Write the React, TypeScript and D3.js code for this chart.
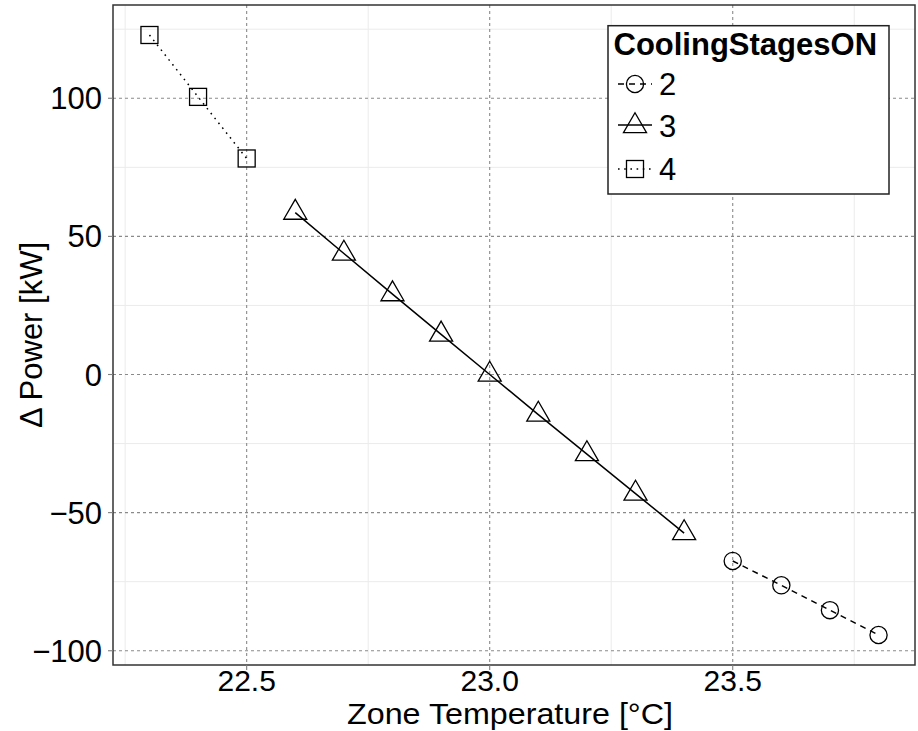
import React from "react";
import * as d3 from "d3";

// Zone temperature (°C) and change in power (kW) per number of cooling stages running
const temps2 = [23.5, 23.6, 23.7, 23.8];
const power2 = [-67.5, -76.3, -85.3, -94.3];
const temps3 = [22.6, 22.7, 22.8, 22.9, 23.0, 23.1, 23.2, 23.3, 23.4];
const power3 = [58.6, 43.8, 29.1, 14.5, 0, -14.5, -28.8, -43.1, -57.4];
const temps4 = [22.3, 22.4, 22.5];
const power4 = [122.9, 100.5, 78.2];

const xTicks = [22.5, 23.0, 23.5];
const xMinor = [22.25, 22.75, 23.25, 23.75];
const yTicks = [-100, -50, 0, 50, 100];
const yMinor = [-75, -25, 25, 75, 125];
const stageLabels = ["2", "3", "4"];

const W = 918;
const H = 731;
const panel = { left: 113, right: 915, top: 5, bottom: 665 };
const FONT = "'Liberation Sans', Arial, Helvetica, sans-serif";
const FS = 31;
const TICK_FS = 30;
const XTITLE_FS = 30;

type Shape = "circle" | "triangle" | "square";
const seriesDefs: { stage: string; xs: number[]; ys: number[]; shape: Shape; dash: string | undefined }[] = [
  { stage: stageLabels[0], xs: temps2, ys: power2, shape: "circle", dash: "6,5" },
  { stage: stageLabels[1], xs: temps3, ys: power3, shape: "triangle", dash: undefined },
  { stage: stageLabels[2], xs: temps4, ys: power4, shape: "square", dash: "1.6,4.6" },
];

function expand(ext: [number, number], f = 0.05): [number, number] {
  const r = ext[1] - ext[0];
  return [ext[0] - r * f, ext[1] + r * f];
}

function Marker({ shape, cx, cy }: { shape: Shape; cx: number; cy: number }) {
  const common = { fill: "none", stroke: "#000", strokeWidth: 1.3 };
  if (shape === "circle") return <circle cx={cx} cy={cy} r={8.6} {...common} />;
  if (shape === "square") return <rect x={cx - 8.5} y={cy - 8.5} width={17} height={17} {...common} />;
  const R = 13.3;
  const pts = [
    [cx, cy - R],
    [cx + (Math.sqrt(3) / 2) * R, cy + R / 2],
    [cx - (Math.sqrt(3) / 2) * R, cy + R / 2],
  ];
  return <polygon points={pts.map((p) => p.join(",")).join(" ")} {...common} />;
}

export default function App() {
  const allX = [...temps2, ...temps3, ...temps4];
  const allY = [...power2, ...power3, ...power4];
  const x = d3
    .scaleLinear()
    .domain(expand(d3.extent(allX) as [number, number]))
    .range([panel.left, panel.right]);
  const y = d3
    .scaleLinear()
    .domain(expand(d3.extent(allY) as [number, number]))
    .range([panel.bottom, panel.top]);

  const line = d3
    .line<[number, number]>()
    .x((d) => x(d[0]))
    .y((d) => y(d[1]));

  const fmtY = (v: number) => (v < 0 ? "\u2212" + Math.abs(v) : String(v));
  const fmtX = d3.format(".1f");

  const legend = { x: 608, y: 25.7, w: 281, h: 168.3 };
  const legendRows = [84, 126, 169];

  return (
    <svg
      width={W}
      height={H}
      style={{ position: "absolute", left: 0, top: 0, background: "#fff" }}
      fontFamily={FONT}
    >
      <rect x={0} y={0} width={W} height={H} fill="#fff" />
      {/* minor grid */}
      {xMinor.map((v) => (
        <line key={"xm" + v} x1={x(v)} x2={x(v)} y1={panel.top} y2={panel.bottom} stroke="#ebebeb" strokeWidth={1} />
      ))}
      {yMinor.map((v) => (
        <line key={"ym" + v} x1={panel.left} x2={panel.right} y1={y(v)} y2={y(v)} stroke="#ebebeb" strokeWidth={1} />
      ))}
      {/* major grid */}
      {xTicks.map((v) => (
        <line
          key={"xg" + v}
          x1={x(v)}
          x2={x(v)}
          y1={panel.top}
          y2={panel.bottom}
          stroke="#8a8a8a"
          strokeWidth={1.1}
          strokeDasharray="3,3"
        />
      ))}
      {yTicks.map((v) => (
        <line
          key={"yg" + v}
          x1={panel.left}
          x2={panel.right}
          y1={y(v)}
          y2={y(v)}
          stroke="#8a8a8a"
          strokeWidth={1.1}
          strokeDasharray="3,3"
        />
      ))}

      {/* series lines */}
      {seriesDefs.map((s) => (
        <path
          key={"l" + s.stage}
          d={line(s.xs.map((v, i) => [v, s.ys[i]]) as [number, number][]) || ""}
          fill="none"
          stroke="#000"
          strokeWidth={1.5}
          strokeDasharray={s.dash}
        />
      ))}
      {/* markers */}
      {seriesDefs.map((s) =>
        s.xs.map((v, i) => <Marker key={"m" + s.stage + i} shape={s.shape} cx={x(v)} cy={y(s.ys[i])} />)
      )}

      {/* panel border */}
      <rect
        x={panel.left}
        y={panel.top}
        width={panel.right - panel.left}
        height={panel.bottom - panel.top}
        fill="none"
        stroke="#333"
        strokeWidth={1.5}
      />

      {/* axis ticks and labels */}
      {yTicks.map((v) => (
        <g key={"yt" + v}>
          <line x1={panel.left - 5} x2={panel.left} y1={y(v)} y2={y(v)} stroke="#7f7f7f" strokeWidth={1.1} />
          <text x={102} y={y(v) + 11} textAnchor="end" fontSize={FS} fill="#000">
            {fmtY(v)}
          </text>
        </g>
      ))}
      {xTicks.map((v) => (
        <g key={"xt" + v}>
          <line x1={x(v)} x2={x(v)} y1={panel.bottom} y2={panel.bottom + 5} stroke="#7f7f7f" strokeWidth={1.1} />
          <text x={x(v)} y={691} textAnchor="middle" fontSize={TICK_FS} fill="#000">
            {fmtX(v)}
          </text>
        </g>
      ))}

      {/* axis titles */}
      <text x={510} y={723.5} textAnchor="middle" fontSize={XTITLE_FS} fill="#000" textLength={326} lengthAdjust="spacingAndGlyphs">
        Zone Temperature [°C]
      </text>
      <text
        transform={`translate(42, ${(panel.top + panel.bottom) / 2}) rotate(-90)`}
        textAnchor="middle"
        fontSize={FS}
        fill="#000"
      >
        Δ Power [kW]
      </text>

      {/* legend */}
      <rect x={legend.x} y={legend.y} width={legend.w} height={legend.h} fill="#fff" stroke="#222" strokeWidth={1.5} />
      <text x={613.5} y={55} fontSize={FS} fontWeight="bold" fill="#000">
        CoolingStagesON
      </text>
      {seriesDefs.map((s, i) => {
        const cy = legendRows[i];
        return (
          <g key={"lg" + s.stage}>
            <line
              x1={618}
              x2={652}
              y1={cy - (s.shape === "triangle" ? 1 : 0)}
              y2={cy - (s.shape === "triangle" ? 1 : 0)}
              stroke="#000"
              strokeWidth={1.5}
              strokeDasharray={s.dash}
            />
            <Marker shape={s.shape} cx={635} cy={cy} />
            <text x={659} y={cy + 11} fontSize={FS} fill="#000">
              {s.stage}
            </text>
          </g>
        );
      })}
    </svg>
  );
}
